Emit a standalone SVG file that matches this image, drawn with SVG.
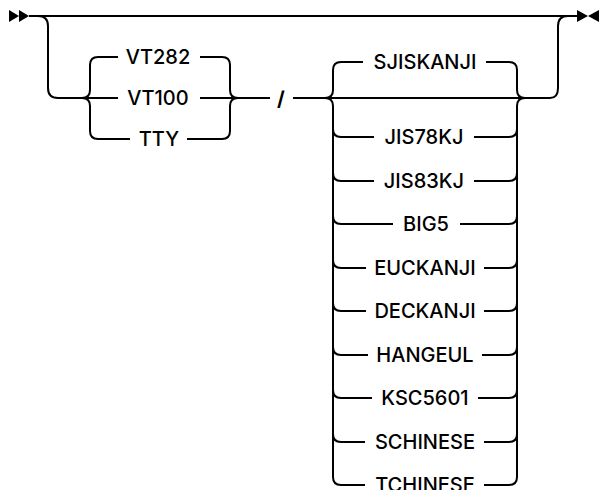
<svg xmlns="http://www.w3.org/2000/svg" width="602" height="490" viewBox="0 0 602 490">
<style>
.ln{fill:none;stroke:#000;stroke-width:2}
.t{font-family:Inter,"Liberation Sans",Arial,sans-serif;font-weight:500;font-size:20px;text-anchor:middle;fill:#000}
.mk{fill:#000}
</style>
<rect width="602" height="490" fill="#fff"/>
<g id="connectors" class="ln">
<path d="M29 16H577"/>
<path d="M38 16Q48 16 48 26V88Q48 98 58 98H118"/>
<path d="M82 98Q90 98 90 90V65Q90 57 98 57H118"/>
<path d="M82 98Q90 98 90 106V131Q90 139 98 139H130"/>
<path d="M200 57H222Q230 57 230 65V90Q230 98 238 98"/>
<path d="M187 139H222Q230 139 230 131V106Q230 98 238 98"/>
<path d="M200 98H270"/>
<path d="M293 98H550Q558 98 558 88V26Q558 16 568 16"/>
<path d="M325 98Q333 98 333 90V70Q333 62 341 62H363"/>
<path d="M325 98Q333 98 333 106V477Q333 485 341 485H365"/>
<path d="M486 62H509Q517 62 517 70V90Q517 98 525 98"/>
<path d="M484 485H509Q517 485 517 477V106Q517 98 525 98"/>
<path d="M333 129Q333 137 341 137H374M474 137H509Q517 137 517 129"/>
<path d="M333 173Q333 181 341 181H374M474 181H509Q517 181 517 173"/>
<path d="M333 216Q333 224 341 224H393M460 224H509Q517 224 517 216"/>
<path d="M333 260Q333 268 341 268H366M484 268H509Q517 268 517 260"/>
<path d="M333 303Q333 311 341 311H366M484 311H509Q517 311 517 303"/>
<path d="M333 347Q333 355 341 355H368M482 355H509Q517 355 517 347"/>
<path d="M333 390Q333 398 341 398H372M478 398H509Q517 398 517 390"/>
<path d="M333 434Q333 442 341 442H365M484 442H509Q517 442 517 434"/>
</g>
<g id="start"><polygon class="mk" points="9,10 19,16 9,22"/><polygon class="mk" points="19,10 29,16 19,22"/></g>
<g id="end"><polygon class="mk" points="577,10 588,16 577,22"/><polygon class="mk" points="599,10 588,16 599,22"/></g>
<g id="opt-VT282"><text class="t" x="158" y="64">VT282</text></g>
<g id="opt-VT100"><text class="t" x="158" y="105">VT100</text></g>
<g id="opt-TTY"><text class="t" x="159" y="146">TTY</text></g>
<g id="sep-slash"><text class="t" x="281" y="106" style="font-weight:700">/</text></g>
<g id="opt-SJISKANJI"><text class="t" x="425" y="69">SJISKANJI</text></g>
<g id="opt-JIS78KJ"><text class="t" x="424" y="144">JIS78KJ</text></g>
<g id="opt-JIS83KJ"><text class="t" x="424" y="188">JIS83KJ</text></g>
<g id="opt-BIG5"><text class="t" x="426" y="231">BIG5</text></g>
<g id="opt-EUCKANJI"><text class="t" x="425" y="275">EUCKANJI</text></g>
<g id="opt-DECKANJI"><text class="t" x="425" y="318">DECKANJI</text></g>
<g id="opt-HANGEUL"><text class="t" x="425" y="362">HANGEUL</text></g>
<g id="opt-KSC5601"><text class="t" x="425" y="405">KSC5601</text></g>
<g id="opt-SCHINESE"><text class="t" x="425" y="449">SCHINESE</text></g>
<g id="opt-TCHINESE"><text class="t" x="425" y="492">TCHINESE</text></g>
</svg>
